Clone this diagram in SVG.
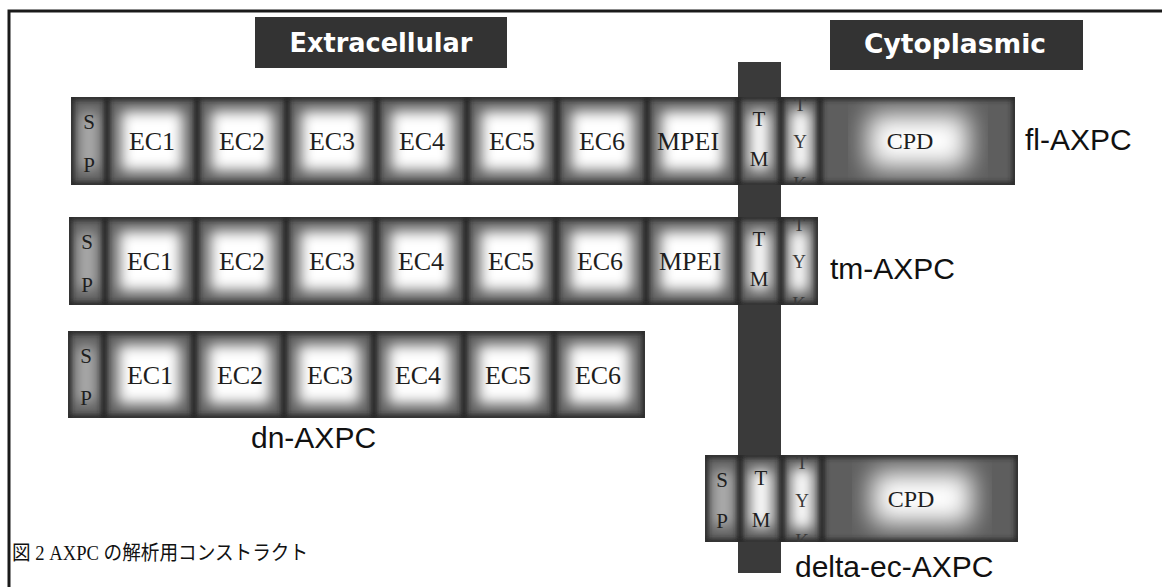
<svg xmlns="http://www.w3.org/2000/svg" width="1162" height="587" viewBox="0 0 1162 587">
<defs>
<filter id="soft" x="-10%" y="-30%" width="120%" height="160%"><feGaussianBlur stdDeviation="7"/></filter>
<filter id="softw" x="-20%" y="-30%" width="140%" height="160%"><feGaussianBlur stdDeviation="13"/></filter>
<filter id="edge" x="-5%" y="-10%" width="110%" height="120%"><feGaussianBlur stdDeviation="2.5"/></filter>
<clipPath id="c1"><rect x="71" y="97" width="944" height="88"/></clipPath>
<clipPath id="c2"><rect x="69" y="217" width="749" height="88"/></clipPath>
<clipPath id="c3"><rect x="68" y="331" width="577" height="87"/></clipPath>
<clipPath id="c4"><rect x="705" y="455" width="313" height="87"/></clipPath>
<style>
.row{fill:#5e5e5e}
.frame{fill:none;stroke:#262626;stroke-width:6}
.div{fill:#222}
.bar{fill:#3a3a3a}
.hbox{fill:#333}
.w{fill:#fff}
.ws{fill:#fff;opacity:.5}
.lbl{font-family:"Liberation Serif","Times New Roman",serif;font-size:26px;fill:#1e1e1e;text-anchor:middle}
.sm{font-size:21px}
.xs{font-size:19px;fill:#3a3a3a}
.name{font-family:"Liberation Sans",Arial,sans-serif;font-size:30px;fill:#111}
.hdr{font-family:"DejaVu Sans",Verdana,sans-serif;font-weight:bold;font-size:26px;fill:#fff;text-anchor:middle}
.cap{font-family:"Liberation Serif","Noto Sans CJK JP",serif;font-size:20px;fill:#111}
</style>
</defs>
<rect width="1162" height="587" fill="#fff"/>
<path d="M9 587 V11 H1162" fill="none" stroke="#1a1a1a" stroke-width="3"/>

<g id="hdr-extracellular">
<rect class="hbox" x="255" y="17" width="252" height="51"/>
<text class="hdr" x="381" y="52" textLength="183" lengthAdjust="spacingAndGlyphs">Extracellular</text>
</g>
<g id="hdr-cytoplasmic">
<rect class="hbox" x="830" y="20" width="253" height="50"/>
<text class="hdr" x="955" y="53" textLength="182" lengthAdjust="spacingAndGlyphs">Cytoplasmic</text>
</g>

<g id="tm-bar">
<rect class="bar" x="738" y="62" width="43" height="511"/>
</g>

<g id="fl-AXPC">
<rect class="row" x="71" y="97" width="944" height="88"/>
<g clip-path="url(#c1)">
<g filter="url(#soft)">
<rect class="ws" x="79" y="112" width="20" height="58"/>
<rect class="w" x="121" y="111" width="62" height="60"/>
<rect class="w" x="211" y="111" width="62" height="60"/>
<rect class="w" x="301" y="111" width="62" height="60"/>
<rect class="w" x="391" y="111" width="62" height="60"/>
<rect class="w" x="481" y="111" width="62" height="60"/>
<rect class="w" x="571" y="111" width="62" height="60"/>
<rect class="w" x="661" y="111" width="63" height="60"/>
<rect class="w" x="749" y="112" width="21" height="58"/>
<rect class="w" x="790" y="110" width="21" height="62"/>
</g>
<rect class="w" x="868" y="114" width="100" height="54" filter="url(#softw)"/>
<g filter="url(#edge)">
<rect class="frame" x="71" y="97" width="944" height="88"/>
<rect class="div" x="104" y="97" width="6" height="88"/>
<rect class="div" x="194" y="97" width="6" height="88"/>
<rect class="div" x="284" y="97" width="6" height="88"/>
<rect class="div" x="374" y="97" width="6" height="88"/>
<rect class="div" x="464" y="97" width="6" height="88"/>
<rect class="div" x="554" y="97" width="6" height="88"/>
<rect class="div" x="644" y="97" width="6" height="88"/>
<rect class="div" x="735" y="97" width="6" height="88"/>
<rect class="div" x="778" y="97" width="6" height="88"/>
<rect class="div" x="817" y="97" width="6" height="88"/>
</g>
<text class="lbl sm" x="89" y="129">S</text>
<text class="lbl sm" x="89" y="172">P</text>
<text class="lbl" x="152" y="150">EC1</text>
<text class="lbl" x="242" y="150">EC2</text>
<text class="lbl" x="332" y="150">EC3</text>
<text class="lbl" x="422" y="150">EC4</text>
<text class="lbl" x="512" y="150">EC5</text>
<text class="lbl" x="602" y="150">EC6</text>
<text class="lbl" x="688" y="150">MPEI</text>
<text class="lbl sm" x="759" y="126">T</text>
<text class="lbl sm" x="759" y="166">M</text>
<text class="lbl xs" x="800" y="111">T</text>
<text class="lbl xs" x="800" y="148">Y</text>
<text class="lbl xs" x="800" y="190">K</text>
<text class="lbl" x="910" y="149" style="font-size:24px">CPD</text>
</g>
<text class="name" x="1025" y="150">fl-AXPC</text>
</g>

<g id="tm-AXPC">
<rect class="row" x="69" y="217" width="749" height="88"/>
<g clip-path="url(#c2)">
<g filter="url(#soft)">
<rect class="ws" x="77" y="232" width="20" height="58"/>
<rect class="w" x="119" y="231" width="62" height="60"/>
<rect class="w" x="210" y="231" width="62" height="60"/>
<rect class="w" x="300" y="231" width="62" height="60"/>
<rect class="w" x="390" y="231" width="62" height="60"/>
<rect class="w" x="480" y="231" width="62" height="60"/>
<rect class="w" x="570" y="231" width="62" height="60"/>
<rect class="w" x="660" y="231" width="64" height="60"/>
<rect class="w" x="749" y="232" width="21" height="58"/>
<rect class="w" x="789" y="230" width="20" height="62"/>
</g>
<g filter="url(#edge)">
<rect class="frame" x="69" y="217" width="749" height="88"/>
<rect class="div" x="102" y="217" width="6" height="88"/>
<rect class="div" x="193" y="217" width="6" height="88"/>
<rect class="div" x="283" y="217" width="6" height="88"/>
<rect class="div" x="373" y="217" width="6" height="88"/>
<rect class="div" x="463" y="217" width="6" height="88"/>
<rect class="div" x="553" y="217" width="6" height="88"/>
<rect class="div" x="643" y="217" width="6" height="88"/>
<rect class="div" x="735" y="217" width="6" height="88"/>
<rect class="div" x="778" y="217" width="6" height="88"/>
</g>
<text class="lbl sm" x="87" y="249">S</text>
<text class="lbl sm" x="87" y="292">P</text>
<text class="lbl" x="150" y="270">EC1</text>
<text class="lbl" x="242" y="270">EC2</text>
<text class="lbl" x="332" y="270">EC3</text>
<text class="lbl" x="421" y="270">EC4</text>
<text class="lbl" x="511" y="270">EC5</text>
<text class="lbl" x="600" y="270">EC6</text>
<text class="lbl" x="690" y="270">MPEI</text>
<text class="lbl sm" x="759" y="246">T</text>
<text class="lbl sm" x="759" y="286">M</text>
<text class="lbl xs" x="799" y="231">T</text>
<text class="lbl xs" x="799" y="268">Y</text>
<text class="lbl xs" x="799" y="310">K</text>
</g>
<text class="name" x="830" y="279">tm-AXPC</text>
</g>

<g id="dn-AXPC">
<rect class="row" x="68" y="331" width="577" height="87"/>
<g clip-path="url(#c3)">
<g filter="url(#soft)">
<rect class="ws" x="76" y="346" width="20" height="57"/>
<rect class="w" x="118" y="345" width="62" height="59"/>
<rect class="w" x="208" y="345" width="62" height="59"/>
<rect class="w" x="298" y="345" width="62" height="59"/>
<rect class="w" x="388" y="345" width="62" height="59"/>
<rect class="w" x="478" y="345" width="62" height="59"/>
<rect class="w" x="568" y="345" width="62" height="59"/>
</g>
<g filter="url(#edge)">
<rect class="frame" x="68" y="331" width="577" height="87"/>
<rect class="div" x="101" y="331" width="6" height="87"/>
<rect class="div" x="191" y="331" width="6" height="87"/>
<rect class="div" x="281" y="331" width="6" height="87"/>
<rect class="div" x="371" y="331" width="6" height="87"/>
<rect class="div" x="461" y="331" width="6" height="87"/>
<rect class="div" x="551" y="331" width="6" height="87"/>
</g>
<text class="lbl sm" x="86" y="363">S</text>
<text class="lbl sm" x="86" y="405">P</text>
<text class="lbl" x="150" y="384">EC1</text>
<text class="lbl" x="240" y="384">EC2</text>
<text class="lbl" x="330" y="384">EC3</text>
<text class="lbl" x="418" y="384">EC4</text>
<text class="lbl" x="508" y="384">EC5</text>
<text class="lbl" x="598" y="384">EC6</text>
</g>
<text class="name" x="251" y="448">dn-AXPC</text>
</g>

<g id="delta-ec-AXPC">
<rect class="row" x="705" y="455" width="313" height="87"/>
<g clip-path="url(#c4)">
<g filter="url(#soft)">
<rect class="ws" x="712" y="470" width="22" height="57"/>
<rect class="w" x="750" y="470" width="22" height="57"/>
<rect class="w" x="791" y="468" width="22" height="61"/>
</g>
<rect class="w" x="872" y="472" width="100" height="52" filter="url(#softw)"/>
<g filter="url(#edge)">
<rect class="frame" x="705" y="455" width="313" height="87"/>
<rect class="div" x="737" y="455" width="6" height="87"/>
<rect class="div" x="779" y="455" width="6" height="87"/>
<rect class="div" x="819" y="455" width="6" height="87"/>
</g>
<text class="lbl sm" x="722" y="487">S</text>
<text class="lbl sm" x="722" y="528">P</text>
<text class="lbl sm" x="761" y="485">T</text>
<text class="lbl sm" x="761" y="527">M</text>
<text class="lbl xs" x="802" y="469">T</text>
<text class="lbl xs" x="802" y="507">Y</text>
<text class="lbl xs" x="802" y="547">K</text>
<text class="lbl" x="911" y="507" style="font-size:24px">CPD</text>
</g>
<text class="name" x="795" y="577">delta-ec-AXPC</text>
</g>

<g id="connectors"></g>

<text class="cap" x="12" y="560" textLength="296" lengthAdjust="spacingAndGlyphs">図 2 AXPC の解析用コンストラクト</text>
</svg>
